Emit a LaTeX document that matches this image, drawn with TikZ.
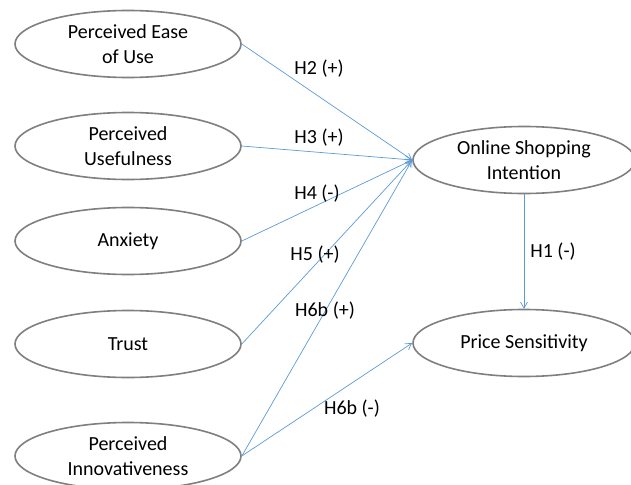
\documentclass[tikz,border=0pt]{standalone}
\usepackage{fontspec}
\setmainfont{Carlito}
\usetikzlibrary{shapes.geometric,arrows.meta}
\definecolor{linkblue}{HTML}{5B9BD5}
\definecolor{rimgray}{HTML}{7F7F7F}
\begin{document}
\begin{tikzpicture}[x=1pt,y=-1pt,
  construct/.style={ellipse,draw=rimgray,line width=1.6pt,fill=white,
    minimum width=226pt,minimum height=67pt,inner sep=0pt,align=center,
    font=\fontsize{20}{25}\selectfont},
  path/.style={draw=linkblue,line width=0.7pt,-{Straight Barb[length=6pt,width=7pt]}},
  hyp/.style={font=\fontsize{20}{24}\selectfont,text=black,inner sep=0pt}]
\useasboundingbox (0,0) rectangle (631,484);
% predictors
\node[construct] (peou) at (128,44)  {Perceived Ease\\of Use};
\node[construct] (pu)   at (128,146) {Perceived\\Usefulness};
\node[construct] (anx)  at (128,241) {Anxiety};
\node[construct] (tru)  at (128,344) {Trust};
\node[construct] (pin)  at (128,456) {Perceived\\Innovativeness};
% outcomes
\node[construct,minimum width=222pt] (osi) at (524,160) {Online Shopping\\Intention};
\node[construct,minimum width=222pt] (ps)  at (524,343) {Price Sensitivity};
% hypothesised paths
\draw[path] (peou.east) -- (osi.west);
\draw[path] (pu.east)   -- (osi.west);
\draw[path] (anx.east)  -- (osi.west);
\draw[path] (tru.east)  -- (osi.west);
\draw[path] (pin.east)  -- (osi.west);
\draw[path] (pin.east)  -- (ps.west);
\draw[path] (osi.south) -- (ps.north);
% path labels
\node[hyp] (h2)  at (319,69)  {H2 (+)};
\node[hyp] (h3)  at (319,138) {H3 (+)};
\node[hyp] (h4)  at (317,194) {H4 (-)};
\node[hyp] (h5)  at (315,255) {H5 (+)};
\node[hyp] (h6a) at (325,311) {H6b (+)};
\node[hyp] (h6b) at (352,409) {H6b (-)};
\node[hyp] (h1)  at (553,252) {H1 (-)};
\end{tikzpicture}
\end{document}
